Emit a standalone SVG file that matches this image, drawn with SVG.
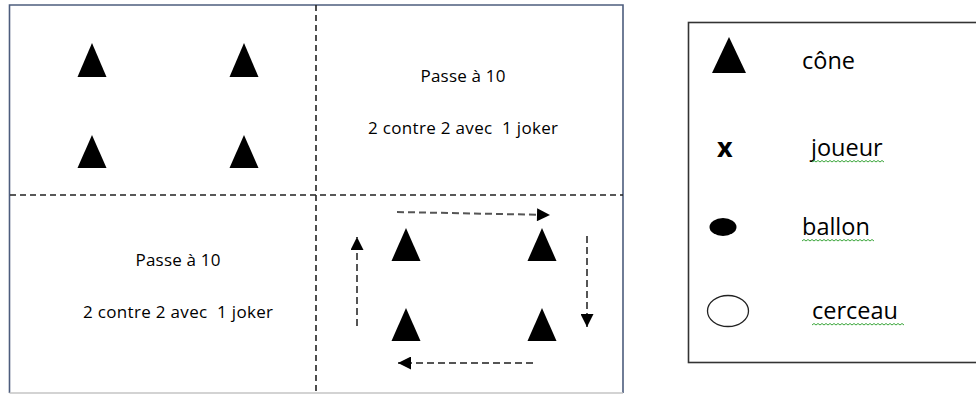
<svg xmlns="http://www.w3.org/2000/svg" width="976" height="394" viewBox="0 0 976 394">
<style>
.cone{fill:#000}
.t{font-family:"Open Sans","Liberation Sans",sans-serif;font-size:17px;fill:#000;text-anchor:middle}
.lg{font-family:"Open Sans","Liberation Sans",sans-serif;font-size:23.5px;fill:#000}
.px{font-family:"Open Sans","Liberation Sans",sans-serif;font-size:27px;font-weight:bold;fill:#000}
.div{stroke:#222;stroke-width:1.6;stroke-dasharray:6 4;fill:none}
.arr{stroke:#555;stroke-width:2;stroke-dasharray:7 4;fill:none;marker-end:url(#ah)}
.sq{stroke:#3aa53a;stroke-width:1;fill:none}
</style>
<defs>
<marker id="ah" viewBox="0 0 10 10" refX="10" refY="5" markerWidth="7" markerHeight="6.5" markerUnits="strokeWidth" orient="auto">
<path d="M0,0 L10,5 L0,10 Z" fill="#000"/>
</marker>
</defs>
<rect width="976" height="394" fill="#fff"/>
<g id="field">
<path d="M9.5,393 V5 H623 V393" fill="none" stroke="#4d5d7d" stroke-width="1.6"/>
<line x1="9.5" y1="393" x2="623" y2="393" stroke="#c4c4c4" stroke-width="1.4"/>
</g>
<g id="dividers">
<line class="div" x1="316" y1="5" x2="316" y2="394"/>
<line class="div" x1="10" y1="195" x2="623" y2="195"/>
</g>
<g id="q1-cones">
<polygon class="cone" points="92,43 77.5,77 106.5,77"/>
<polygon class="cone" points="244,43 229.5,77 258.5,77"/>
<polygon class="cone" points="92,135 77.5,168 106.5,168"/>
<polygon class="cone" points="244,135 229.5,168 258.5,168"/>
</g>
<g id="q2-text">
<text class="t" x="463" y="82" textLength="85">Passe à 10</text>
<text class="t" x="463" y="134" xml:space="preserve" textLength="190">2 contre 2 avec  1 joker</text>
</g>
<g id="q3-text">
<text class="t" x="178" y="266" textLength="85">Passe à 10</text>
<text class="t" x="178" y="318" xml:space="preserve" textLength="190">2 contre 2 avec  1 joker</text>
</g>
<g id="q4-cones">
<polygon class="cone" points="406,228 391.5,261 420.5,261"/>
<polygon class="cone" points="542,228 527.5,261 556.5,261"/>
<polygon class="cone" points="406,308 391.5,341 420.5,341"/>
<polygon class="cone" points="542,308 527.5,341 556.5,341"/>
</g>
<g id="connectors">
<line class="arr" x1="397" y1="212" x2="550" y2="215"/>
<line class="arr" x1="587" y1="236" x2="587" y2="327"/>
<line class="arr" x1="533" y1="363" x2="398" y2="363"/>
<line class="arr" x1="357" y1="326" x2="357" y2="237"/>
</g>
<g id="legend">
<rect x="688.5" y="22.5" width="300" height="340" fill="none" stroke="#333" stroke-width="1.6"/>
</g>
<g id="legend-cone">
<polygon class="cone" points="729,37 712,73 746,73"/>
<text class="lg" x="802" y="69">cône</text>
</g>
<g id="legend-joueur">
<text class="px" x="717" y="157">x</text>
<text class="lg" x="811" y="156">joueur</text>
<path class="sq" d="M812,162 l2,-1.5 l2,1.5 l2,-1.5 l2,1.5 l2,-1.5 l2,1.5 l2,-1.5 l2,1.5 l2,-1.5 l2,1.5 l2,-1.5 l2,1.5 l2,-1.5 l2,1.5 l2,-1.5 l2,1.5 l2,-1.5 l2,1.5 l2,-1.5 l2,1.5 l2,-1.5 l2,1.5 l2,-1.5 l2,1.5 l2,-1.5 l2,1.5 l2,-1.5 l2,1.5 l2,-1.5 l2,1.5 l2,-1.5 l2,1.5 l2,-1.5 l2,1.5 l2,-1.5 l2,1.5"/>
</g>
<g id="legend-ballon">
<ellipse cx="723" cy="227" rx="13.5" ry="9" fill="#000"/>
<text class="lg" x="802" y="235">ballon</text>
<path class="sq" d="M802,241 l2,-1.5 l2,1.5 l2,-1.5 l2,1.5 l2,-1.5 l2,1.5 l2,-1.5 l2,1.5 l2,-1.5 l2,1.5 l2,-1.5 l2,1.5 l2,-1.5 l2,1.5 l2,-1.5 l2,1.5 l2,-1.5 l2,1.5 l2,-1.5 l2,1.5 l2,-1.5 l2,1.5 l2,-1.5 l2,1.5 l2,-1.5 l2,1.5 l2,-1.5 l2,1.5 l2,-1.5 l2,1.5 l2,-1.5 l2,1.5 l2,-1.5 l2,1.5 l2,-1.5 l2,1.5"/>
</g>
<g id="legend-cerceau">
<ellipse cx="728" cy="311" rx="20.5" ry="15.5" fill="none" stroke="#222" stroke-width="1.3"/>
<text class="lg" x="812" y="319">cerceau</text>
<path class="sq" d="M812,325 l2,-1.5 l2,1.5 l2,-1.5 l2,1.5 l2,-1.5 l2,1.5 l2,-1.5 l2,1.5 l2,-1.5 l2,1.5 l2,-1.5 l2,1.5 l2,-1.5 l2,1.5 l2,-1.5 l2,1.5 l2,-1.5 l2,1.5 l2,-1.5 l2,1.5 l2,-1.5 l2,1.5 l2,-1.5 l2,1.5 l2,-1.5 l2,1.5 l2,-1.5 l2,1.5 l2,-1.5 l2,1.5 l2,-1.5 l2,1.5 l2,-1.5 l2,1.5 l2,-1.5 l2,1.5 l2,-1.5 l2,1.5 l2,-1.5 l2,1.5 l2,-1.5 l2,1.5 l2,-1.5 l2,1.5 l2,-1.5 l2,1.5"/>
</g>
</svg>
